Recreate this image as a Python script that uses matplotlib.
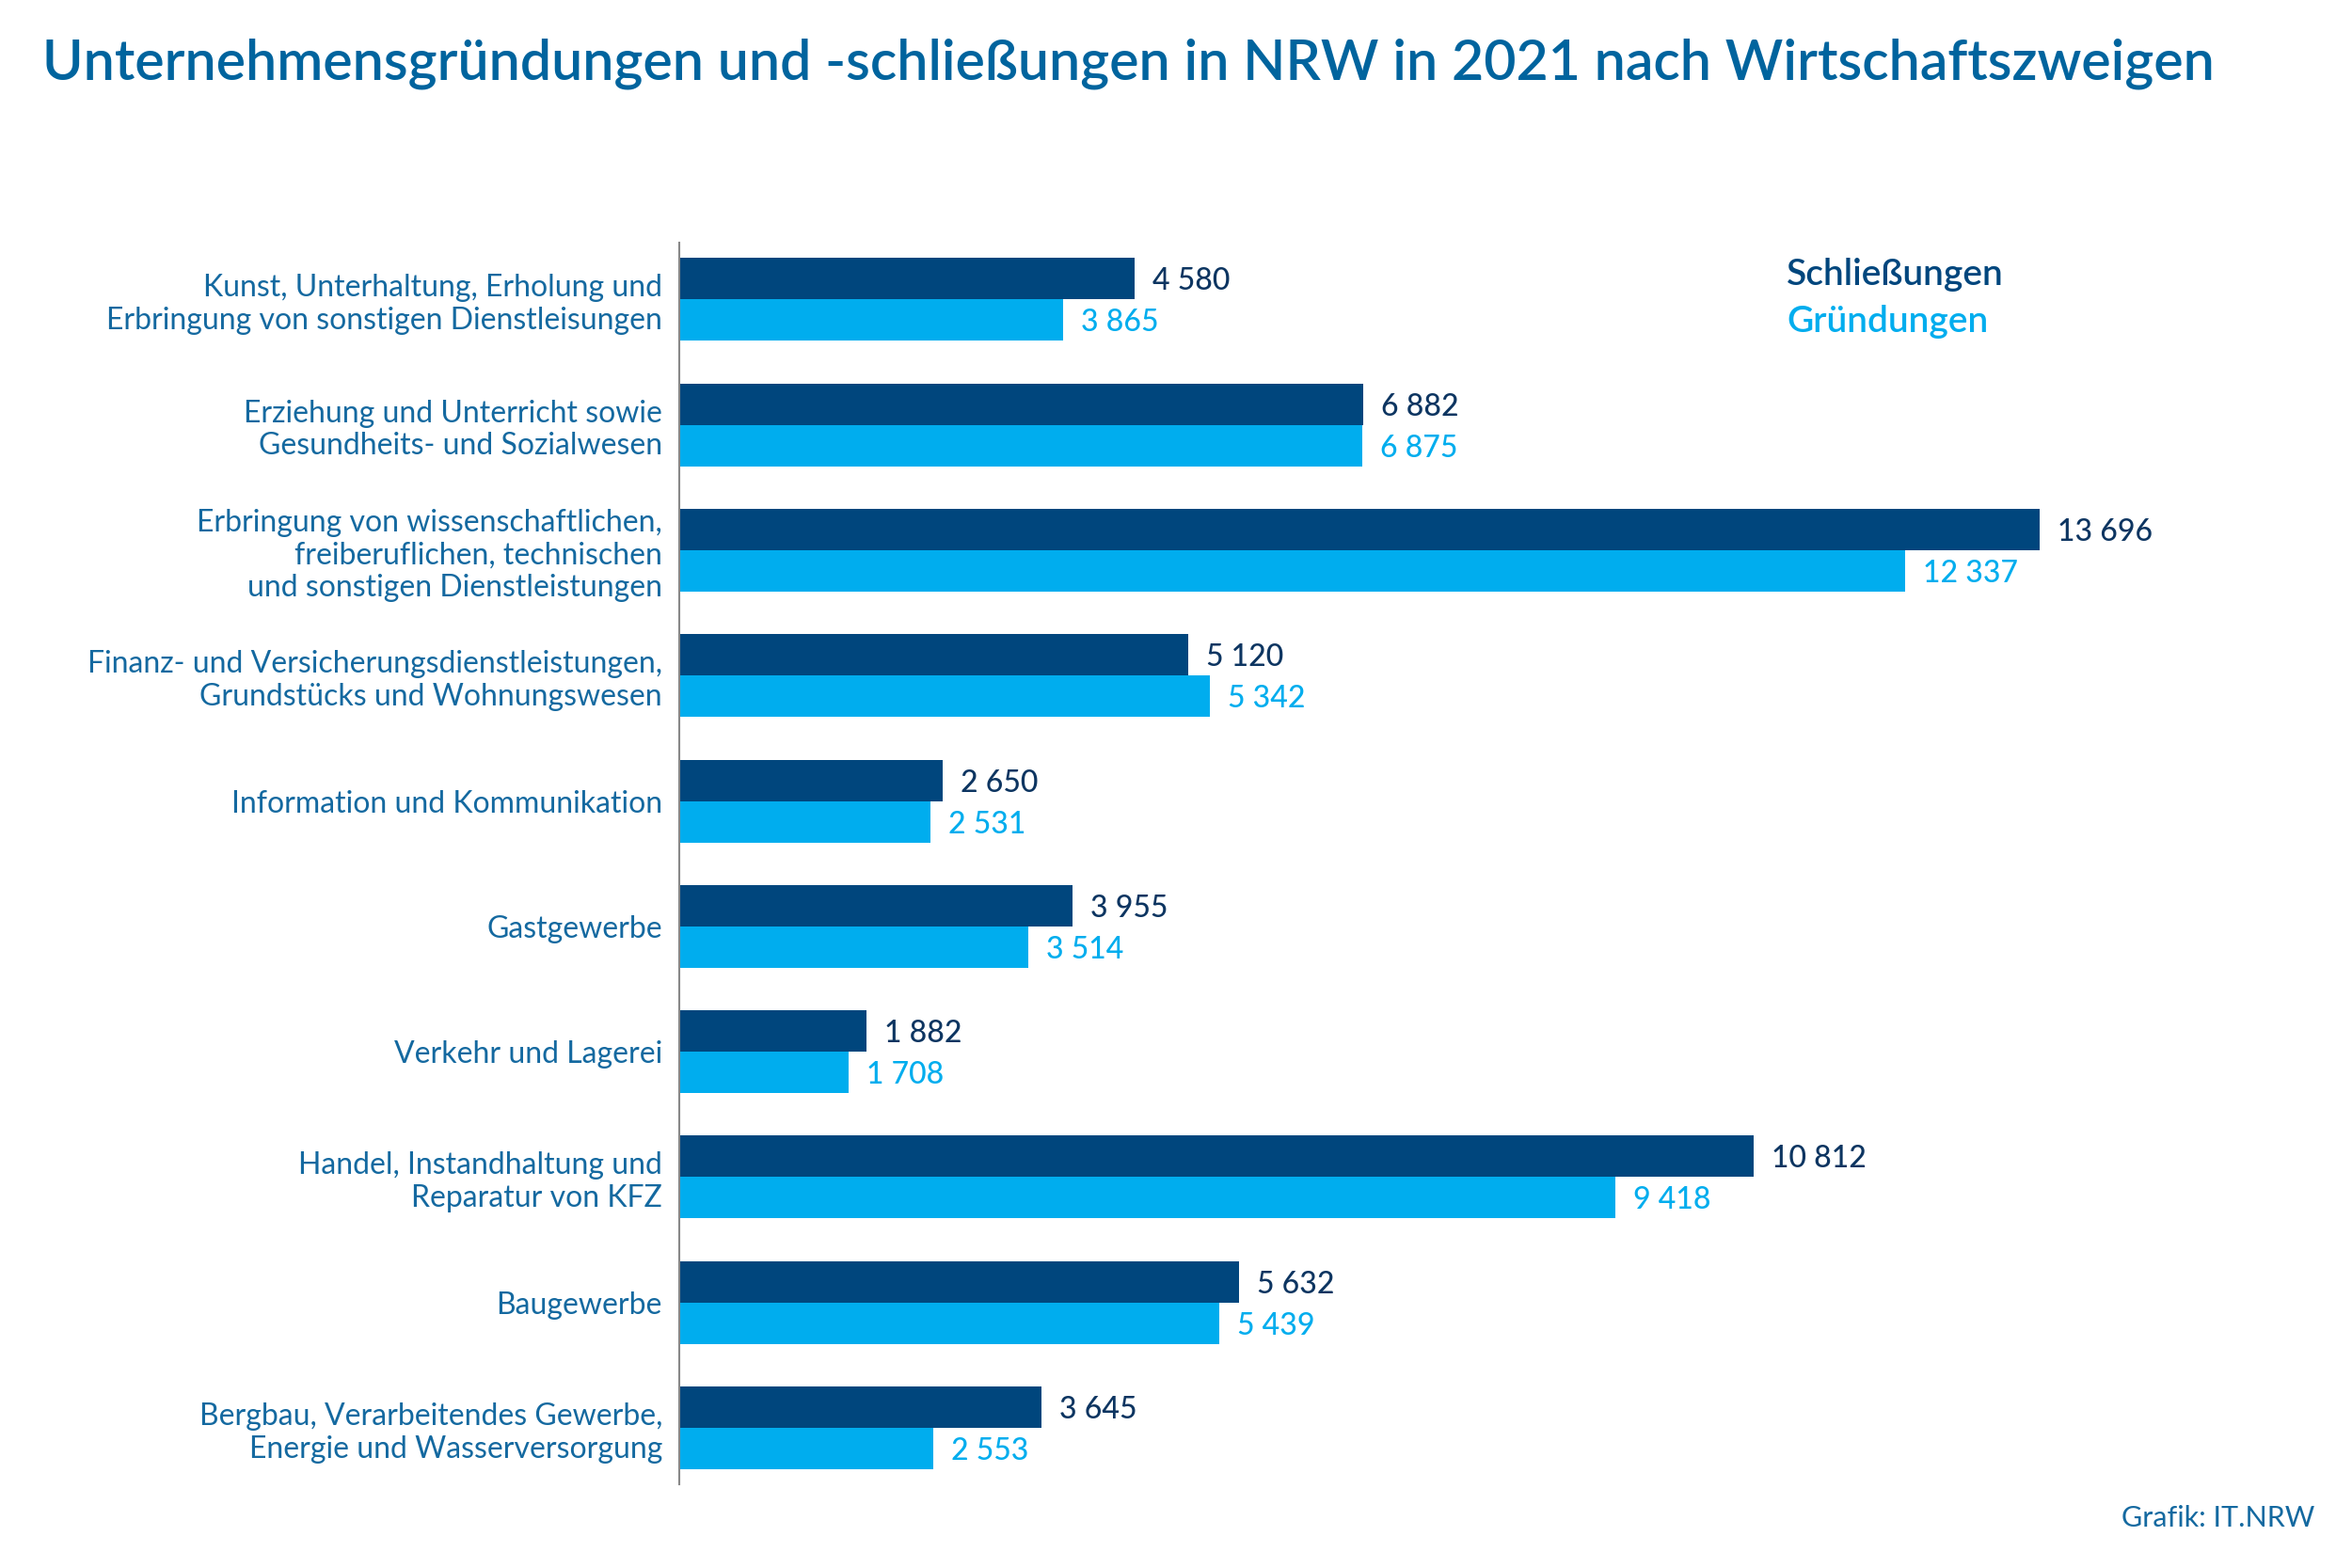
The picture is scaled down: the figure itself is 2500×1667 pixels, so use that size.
import matplotlib
matplotlib.use("Agg")
import matplotlib.pyplot as plt
import numpy as np

# Wirtschaftszweige, von oben nach unten
categories = [
    "Kunst, Unterhaltung, Erholung und\nErbringung von sonstigen Dienstleisungen",
    "Erziehung und Unterricht sowie\nGesundheits- und Sozialwesen",
    "Erbringung von wissenschaftlichen,\nfreiberuflichen, technischen\nund sonstigen Dienstleistungen",
    "Finanz- und Versicherungsdienstleistungen,\nGrundstücks und Wohnungswesen",
    "Information und Kommunikation",
    "Gastgewerbe",
    "Verkehr und Lagerei",
    "Handel, Instandhaltung und\nReparatur von KFZ",
    "Baugewerbe",
    "Bergbau, Verarbeitendes Gewerbe,\nEnergie und Wasserversorgung",
]
schliessungen = [4580, 6882, 13696, 5120, 2650, 3955, 1882, 10812, 5632, 3645]
gruendungen = [3865, 6875, 12337, 5342, 2531, 3514, 1708, 9418, 5439, 2553]

dark = "#00467d"
light = "#00adee"
label_col = "#1469a0"
title_col = "#00649e"
value_dark = "#0d3561"

lato = ["Lato", "DejaVu Sans"]

fig = plt.figure(figsize=(25, 16.67), dpi=100)
ax = fig.add_axes([0.2888, 0.0534, 0.64, 0.7916])

y = np.arange(len(categories))
h = 0.33
ax.barh(y - h / 2, schliessungen, height=h, color=dark)
ax.barh(y + h / 2, gruendungen, height=h, color=light)

def fmt(v):
    return f"{v:,}".replace(",", " ")

for i in range(len(categories)):
    ax.text(schliessungen[i] + 180, y[i] - h / 2, fmt(schliessungen[i]), va="center_baseline",
            ha="left", fontsize=23, color=value_dark, family=lato, fontweight="medium")
    ax.text(gruendungen[i] + 180, y[i] + h / 2, fmt(gruendungen[i]), va="center_baseline",
            ha="left", fontsize=23, color=light, family=lato, fontweight="medium")

ax.set_ylim(len(categories) - 0.55, -0.45)
ax.set_xlim(0, 15150)
ax.set_yticks(y)
ax.set_yticklabels(categories, fontsize=23, color=label_col, family=lato,
                   linespacing=1.2)
ax.tick_params(axis="y", length=0, pad=13)
ax.set_xticks([])
for s in ["top", "right", "bottom"]:
    ax.spines[s].set_visible(False)
ax.spines["left"].set_color("#888888")
ax.spines["left"].set_linewidth(1.5)

fig.text(0.018, 0.9496, "Unternehmensgründungen und -schließungen in NRW in 2021 nach Wirtschaftszweigen",
         fontsize=42.5, color=title_col, family=lato, fontweight="semibold",
         va="baseline", ha="left")

fig.text(0.7596, 0.825, "Schließungen", fontsize=28, color=dark, family=lato,
         fontweight="semibold", va="center")
fig.text(0.7596, 0.795, "Gründungen", fontsize=28, color=light, family=lato,
         fontweight="semibold", va="center")

fig.text(0.984, 0.032, "Grafik: IT.NRW", fontsize=22, color=label_col, family=lato,
         ha="right", va="center")

fig.savefig("out.png", dpi=100, facecolor="white")
